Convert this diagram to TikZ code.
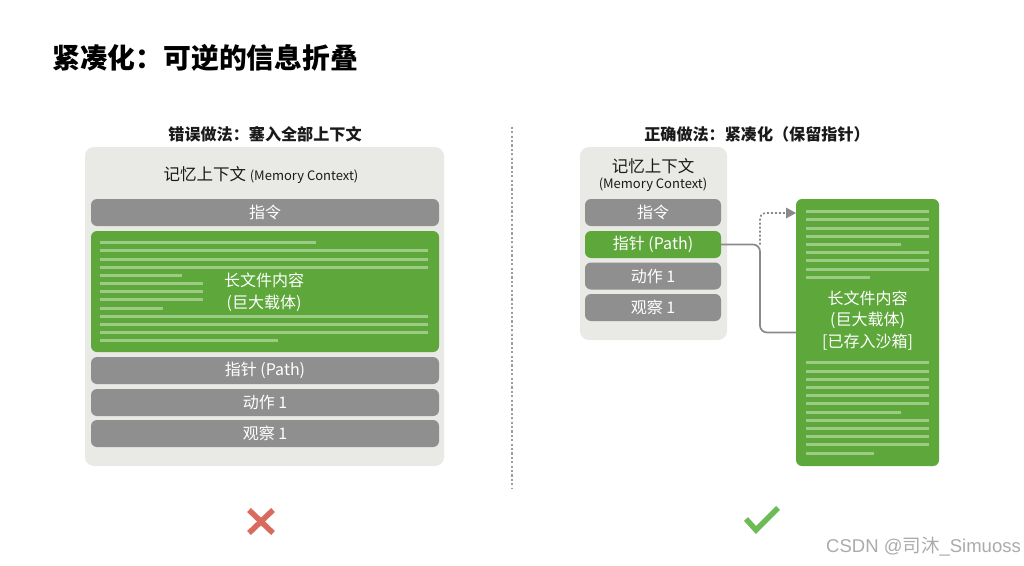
\documentclass[tikz,border=0pt]{standalone}
\usepackage{fontspec}
\setmainfont{Noto Sans CJK SC}
\newfontfamily\wmlatin{Liberation Sans}
\usetikzlibrary{arrows.meta}
\definecolor{panelgray}{HTML}{E9E9E6}
\definecolor{bargray}{HTML}{8F8F8F}
\definecolor{leafgreen}{HTML}{5DA73B}
\definecolor{linegreen}{HTML}{9BCB85}
\definecolor{linkgray}{HTML}{8A8A8A}
\definecolor{inkblack}{HTML}{1A1A1A}
\definecolor{crossred}{HTML}{D96B5E}
\definecolor{checkgreen}{HTML}{6CBB56}
\newcommand{\fs}[1]{\fontsize{#1}{#1}\selectfont}
\tikzset{
  box/.style={rounded corners=6pt,inner sep=0pt,outer sep=0pt,anchor=north west},
  panel/.style={box,fill=panelgray,rounded corners=9pt},
  bar/.style={box,fill=bargray,text=white,font=\fs{16},align=center},
  greenbar/.style={box,fill=leafgreen,text=white,font=\fs{16},align=center},
  txtline/.style={linegreen,line width=3pt},
  heading/.style={font=\fs{16.1}\bfseries,text=inkblack,inner sep=0pt},
  label/.style={font=\fontsize{16}{21.5}\selectfont,text=white,align=center,inner sep=0pt},
  link/.style={linkgray,line width=1.7pt,rounded corners=7pt},
  dotlink/.style={linkgray,line width=1.7pt,dash pattern=on 2pt off 2pt,rounded corners=5pt},
}
\begin{document}
\begin{tikzpicture}[x=1pt,y=-1pt]
\useasboundingbox (0,0) rectangle (1024,565);
\fill[white] (0,0) rectangle (1024,565);
\node[font=\fs{27.8}\bfseries,text=black,anchor=west,inner sep=0pt] (title) at (52,58) {紧凑化：可逆的信息折叠};
\node[heading] (lefthead) at (265,134.5) {错误做法：塞入全部上下文};
\node[heading] (righthead) at (757,134.5) {正确做法：紧凑化（保留指针）};
\node[inner sep=0pt] (divtop) at (512,126) {};
\node[inner sep=0pt] (divbot) at (512,489) {};
\draw[black!38,line width=1.8pt,dash pattern=on 2.2pt off 2.2pt] (divtop) -- (divbot);
% left panel
\node[panel,minimum width=359pt,minimum height=319pt] (lpanel) at (85,147) {};
\node[anchor=center,inner sep=0pt,text=inkblack] (lmem) at (261,175) {\fs{16.5}记忆上下文 \fs{13}(Memory Context)};
\node[bar,minimum width=348pt,minimum height=27pt] (l1) at (91,199) {指令};
\node[box,fill=leafgreen,minimum width=348pt,minimum height=121pt] (lbig) at (91,231) {};
\foreach \y/\e in {242.3/315.7,250.7/428.3,259/428.3,267/428.3,275.3/182,283.3/203.3,291.7/203.3,299.7/203.3,308/162.7,316.3/428.3,324.3/428.3,332.3/428.3,340.7/277.7}
  \draw[txtline] (100.3,\y) -- (\e,\y);
\node[label] (lbigtxt) at (264,292.5) {长文件内容\\(巨大载体)};
\node[bar,minimum width=348pt,minimum height=27pt] (l2) at (91,357) {指针 (Path)};
\node[bar,minimum width=348pt,minimum height=27pt] (l3) at (91,389) {动作 1};
\node[bar,minimum width=348pt,minimum height=27pt] (l4) at (91,420) {观察 1};
% right panel
\node[panel,minimum width=147pt,minimum height=193pt] (rpanel) at (580,147) {};
\node[anchor=center,inner sep=0pt,text=inkblack,align=center] (rmem) at (653,175.5) {\fs{16.5}记忆上下文\\[4pt]\fs{13}(Memory Context)};
\node[bar,minimum width=136pt,minimum height=27pt] (r1) at (585,199) {指令};
\node[greenbar,minimum width=136pt,minimum height=27pt] (r2) at (585,231) {指针 (Path)};
\node[bar,minimum width=136pt,minimum height=27pt] (r3) at (585,262.5) {动作 1};
\node[bar,minimum width=136pt,minimum height=27pt] (r4) at (585,294) {观察 1};
% big green doc
\node[box,fill=leafgreen,minimum width=143pt,minimum height=267pt] (doc) at (796,199) {};
\foreach \y/\e in {211.7/929,219.7/929,228/929,236.3/929,244.3/900.7,252.7/929,260.7/929,269/929,277/870,
  362.7/929,371/929,379.3/929,387.3/929,395.7/929,403.7/929,412/900.7,420/929,428.3/929,436.7/929,444.7/929,453/873.7}
  \draw[txtline] (806,\y) -- (\e,\y);
\node[label] (doctxt) at (867.5,320.5) {长文件内容\\(巨大载体)\\{}[已存入沙箱]};
% connectors
\coordinate (docin) at (796,332.5);
\coordinate (bend) at (760,244.5);
\coordinate (dotup) at (760,213);
\coordinate (dotin) at (786,213);
\draw[link] (r2.east) -- (bend) -- (760,332.5) -- (docin);
\draw[dotlink] (bend) -- (dotup) -- (dotin);
\fill[linkgray] (786,207.5) -- (796,213) -- (786,218.5) -- cycle;
% marks
\draw[crossred,line width=5.5pt] (249,510) -- (273,533);
\draw[crossred,line width=5.5pt] (273,510) -- (249,533);
\draw[checkgreen,line width=5.5pt] (746,519) -- (756,530) -- (778,508);
% watermark
\node[anchor=east,inner sep=0pt,text=black!33] (wm) at (1021,547) {\fs{18.5}\wmlatin CSDN @\normalfont\fs{18.5}司沐\wmlatin \_Simuoss};
\end{tikzpicture}
\end{document}
